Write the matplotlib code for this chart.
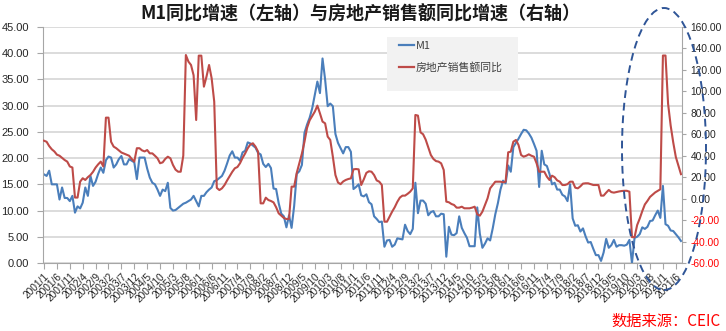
import matplotlib
matplotlib.use("Agg")
import matplotlib.pyplot as plt
from matplotlib.patches import Ellipse, Rectangle
from matplotlib.transforms import IdentityTransform
from matplotlib.lines import Line2D

plt.rcParams['font.family'] = ['Noto Sans CJK SC', 'DejaVu Sans']

# ---------------- data ----------------
years = list(range(2001, 2022))
months = [f"{y}/{m}" for y in years for m in range(1, 13)][:248]

m1_yoy = [
    16.9, 16.6, 17.6, 15.0, 15.0, 15.0, 12.1, 14.4, 12.4, 12.4, 11.8, 12.8,   # 2001
    9.6, 10.8, 10.4, 11.5, 14.4, 12.8, 16.6, 14.7, 15.5, 17.0, 18.2, 17.2,    # 2002
    19.6, 20.3, 20.1, 18.2, 18.8, 19.8, 20.4, 18.8, 18.8, 19.8, 19.5, 19.2,   # 2003
    16.0, 20.1, 20.1, 20.1, 18.0, 16.3, 15.3, 15.0, 14.0, 12.8, 14.0, 13.7,   # 2004
    15.3, 10.5, 10.0, 10.1, 10.5, 10.9, 11.3, 11.5, 11.8, 12.1, 12.8, 11.8,   # 2005
    10.8, 12.8, 12.8, 13.5, 14.0, 14.4, 15.6, 15.8, 16.2, 16.6, 17.6, 19.0,   # 2006
    20.5, 21.3, 20.1, 20.1, 19.5, 21.1, 21.4, 23.0, 22.8, 22.4, 22.0, 21.0,   # 2007
    20.7, 18.9, 18.3, 18.9, 18.1, 14.2, 14.1, 11.4, 9.4, 8.9, 6.8, 9.1,       # 2008
    6.7, 10.9, 17.0, 17.5, 18.7, 24.8, 26.4, 27.7, 29.5, 32.0, 34.6, 32.4,    # 2009
    39.0, 35.0, 29.9, 30.4, 29.9, 24.6, 22.9, 21.9, 20.9, 22.1, 22.1, 21.2,   # 2010
    14.1, 14.5, 15.0, 12.9, 12.7, 13.1, 11.6, 11.2, 8.9, 8.4, 7.8, 7.9,       # 2011
    3.1, 4.3, 4.4, 3.1, 3.5, 4.7, 4.6, 4.5, 7.3, 6.1, 5.5, 6.5,               # 2012
    15.3, 9.5, 11.9, 11.9, 11.3, 9.1, 9.7, 9.9, 8.9, 8.9, 9.4, 9.3,           # 2013
    1.2, 6.9, 5.4, 5.3, 5.7, 8.9, 6.7, 5.7, 4.8, 3.2, 3.2, 3.2,               # 2014
    10.6, 5.6, 2.9, 3.7, 4.7, 4.3, 6.6, 9.3, 11.4, 14.0, 15.7, 15.2,          # 2015
    18.6, 17.4, 22.1, 22.9, 23.7, 24.6, 25.4, 25.3, 24.7, 23.9, 22.7, 21.4,   # 2016
    14.5, 21.4, 18.8, 18.5, 17.0, 15.0, 15.3, 14.0, 14.0, 13.0, 12.7, 11.8,   # 2017
    15.0, 8.5, 7.1, 7.2, 6.0, 6.6, 5.1, 3.9, 4.0, 2.7, 1.5, 1.5,              # 2018
    0.4, 2.0, 4.6, 2.9, 3.4, 4.4, 3.1, 3.4, 3.4, 3.3, 3.5, 4.4,               # 2019
    0.0, 4.8, 5.0, 5.5, 6.8, 6.5, 6.9, 8.0, 8.1, 9.1, 10.0, 8.6,              # 2020
    14.7, 7.4, 7.1, 6.2, 6.1, 5.5, 4.9, 4.2,                                  # 2021
]

sales_yoy = [
    54, 53, 49, 46, 44, 41, 40, 38, 36, 34.5, 30, 29,                          # 2001
    1, 1, 15.8, 19, 17.4, 20, 22, 25, 29, 32, 34.5, 30,                        # 2002
    75.5, 75.5, 53, 48.5, 47, 45, 43, 42, 41, 40, 37, 34.5,                    # 2003
    47, 47, 45, 44, 45.3, 42.2, 42.2, 40, 37.6, 33, 33.8, 37,                  # 2004
    39.1, 37.6, 31.4, 27, 25.1, 25.1, 40, 133.9, 127.7, 124.6, 115, 73.3,      # 2005
    133.3, 133.3, 104.4, 113.7, 124.6, 112.2, 90.4, 10, 8, 9.6, 12.7, 17,      # 2006
    21, 25, 28.3, 29.5, 33, 38, 42.2, 47, 50.5, 51.6, 48.5, 43.8,              # 2007
    -4.4, -4.4, 0.9, -1.3, -2.2, -3.5, -8, -13.7, -15.9, -18, -19, -19,        # 2008
    11.2, 11.2, 24, 33, 42, 53, 66, 73, 77, 81.1, 86.7, 79.5,                  # 2009
    71.8, 70.2, 57.8, 54.7, 39.1, 22, 15, 13.5, 16, 17.4, 18.3, 18.9,          # 2010
    27.3, 27.6, 27.3, 12.7, 18, 24, 25.5, 25.1, 22, 17, 15.8, 12.7,            # 2011
    -21.5, -21.5, -16.8, -12.1, -8, -3, 1, 2.8, 2.8, 4.5, 6.5, 9.6,            # 2012
    78, 77.4, 61.8, 60, 55, 48, 40.7, 37, 35, 34.5, 32.9, 26.7,                # 2013
    -2.8, -3.4, -5, -5.9, -8.4, -8.4, -7.5, -9, -9, -9, -8.4, -7.5,            # 2014
    -14.6, -15.9, -12.1, -5.9, 0.3, 9.6, 12.7, 15.8, 15.8, 15.8, 15.2, 15.8,   # 2015
    43.2, 43.8, 53.1, 54.7, 50, 40.7, 39.1, 40, 41.3, 40, 39.1, 33,            # 2016
    25.1, 25.1, 25.1, 20.5, 17.4, 21.4, 20, 17, 15.8, 12.7, 12.7, 13.5,        # 2017
    15.8, 15.8, 10.2, 9.6, 11.5, 14, 14.3, 14.3, 13.5, 12.7, 12.7, 12.7,       # 2018
    2.8, 2.8, 5.6, 8.1, 6.1, 5.6, 6.2, 6.7, 7.1, 7.3, 7.3, 6.5,                # 2019
    -35.9, -35.9, -24.7, -18.6, -11.6, -5.4, -2.1, 1.6, 3.7, 5.8, 7.2, 8.7,    # 2020
    133.4, 133.4, 88.5, 68.2, 52.4, 38.9, 30.7, 22.8,                          # 2021
]

left_ticks = [0, 5, 10, 15, 20, 25, 30, 35, 40, 45]
right_ticks = [-60, -40, -20, 0, 20, 40, 60, 80, 100, 120, 140, 160]
label_every = 5

title = "M1同比增速（左轴）与房地产销售额同比增速（右轴）"
legend_labels = ["M1", "房地产销售额同比"]
source = "数据来源：CEIC"

# ---------------- figure ----------------
W, H = 726, 331
fig = plt.figure(figsize=(W / 100, H / 100), dpi=100)
L, R, T, B = 43, 682, 27, 263
ax = fig.add_axes([L / W, 1 - B / H, (R - L) / W, (B - T) / H])
ax2 = ax.twinx()

blue = '#4a7ebb'
red = '#be4b48'
axis_gray = '#a6a6a6'
txt = '#262626'

x = list(range(len(months)))
ax.plot(x, m1_yoy, color=blue, lw=1.5, solid_joinstyle='round')
ax2.plot(x, sales_yoy, color=red, lw=1.5, solid_joinstyle='round')

ax.set_xlim(-0.4, len(months) - 1 + 0.4)
ax.set_ylim(0, 45)
ax2.set_ylim(-60, 160)

ax.set_yticks(left_ticks)
ax.set_yticklabels([f"{v:.2f}" for v in left_ticks], fontfamily='Liberation Sans',
                   fontsize=8, color=txt)
ax2.set_yticks(right_ticks)
rl = ax2.set_yticklabels([f"{v:.2f}" for v in right_ticks], fontfamily='Liberation Sans',
                         fontsize=7.4)
for v, t in zip(right_ticks, rl):
    t.set_color('#ff0000' if v < 0 else txt)

ax.set_xticks(x[::label_every])
ax.set_xticklabels(months[::label_every], rotation=45, ha='right', va='top',
                   rotation_mode='anchor', fontfamily='Liberation Sans',
                   fontsize=7.3, color=txt)

ax.tick_params(axis='x', length=4, width=0.8, color=axis_gray, direction='out', pad=2)
ax.tick_params(axis='y', length=4, width=0.8, color=axis_gray, direction='out', pad=6)
ax2.tick_params(axis='y', length=3, width=0.8, color=axis_gray, direction='out', pad=3)

for s in ['top', 'right']:
    ax.spines[s].set_visible(False)
for s in ['left', 'bottom']:
    ax.spines[s].set_color(axis_gray)
    ax.spines[s].set_linewidth(0.8)
for s in ['top', 'left', 'bottom']:
    ax2.spines[s].set_visible(False)
ax2.spines['right'].set_color(axis_gray)
ax2.spines['right'].set_linewidth(0.8)

ax.grid(axis='y', color='#d9d9d9', lw=1.3)
ax.set_axisbelow(True)

# title and source
fig.text(360 / W, 1 - 14 / H, title, ha='center', va='center', fontsize=13,
         fontweight='bold', color='#1a1a1a')
fig.text(721 / W, 1 - 321 / H, source, ha='right', va='center', fontsize=11,
         color='#ff0000')

# legend with light gray background
bg = Rectangle((387, H - 91), 131, 54, transform=IdentityTransform(),
               facecolor='#f2f2f2', edgecolor='none', zorder=2)
fig.add_artist(bg)
handles = [Line2D([], [], color=blue, lw=1.6), Line2D([], [], color=red, lw=1.6)]
leg = fig.legend(handles, legend_labels, loc='upper left',
                 bbox_to_anchor=(399 / W, 1 - 41 / H), frameon=False, fontsize=7.8,
                 handlelength=1.4, handletextpad=0.15, labelspacing=1.0,
                 borderpad=0, borderaxespad=0, labelcolor='#404040')
leg.set_zorder(5)

# dashed highlight ellipse
ell = Ellipse((664, H - 149), 84, 282, transform=IdentityTransform(), fill=False,
              edgecolor='#2f5597', lw=1.4, linestyle=(0, (4, 2.5)), zorder=6)
fig.add_artist(ell)

fig.savefig('out.png', dpi=100)
